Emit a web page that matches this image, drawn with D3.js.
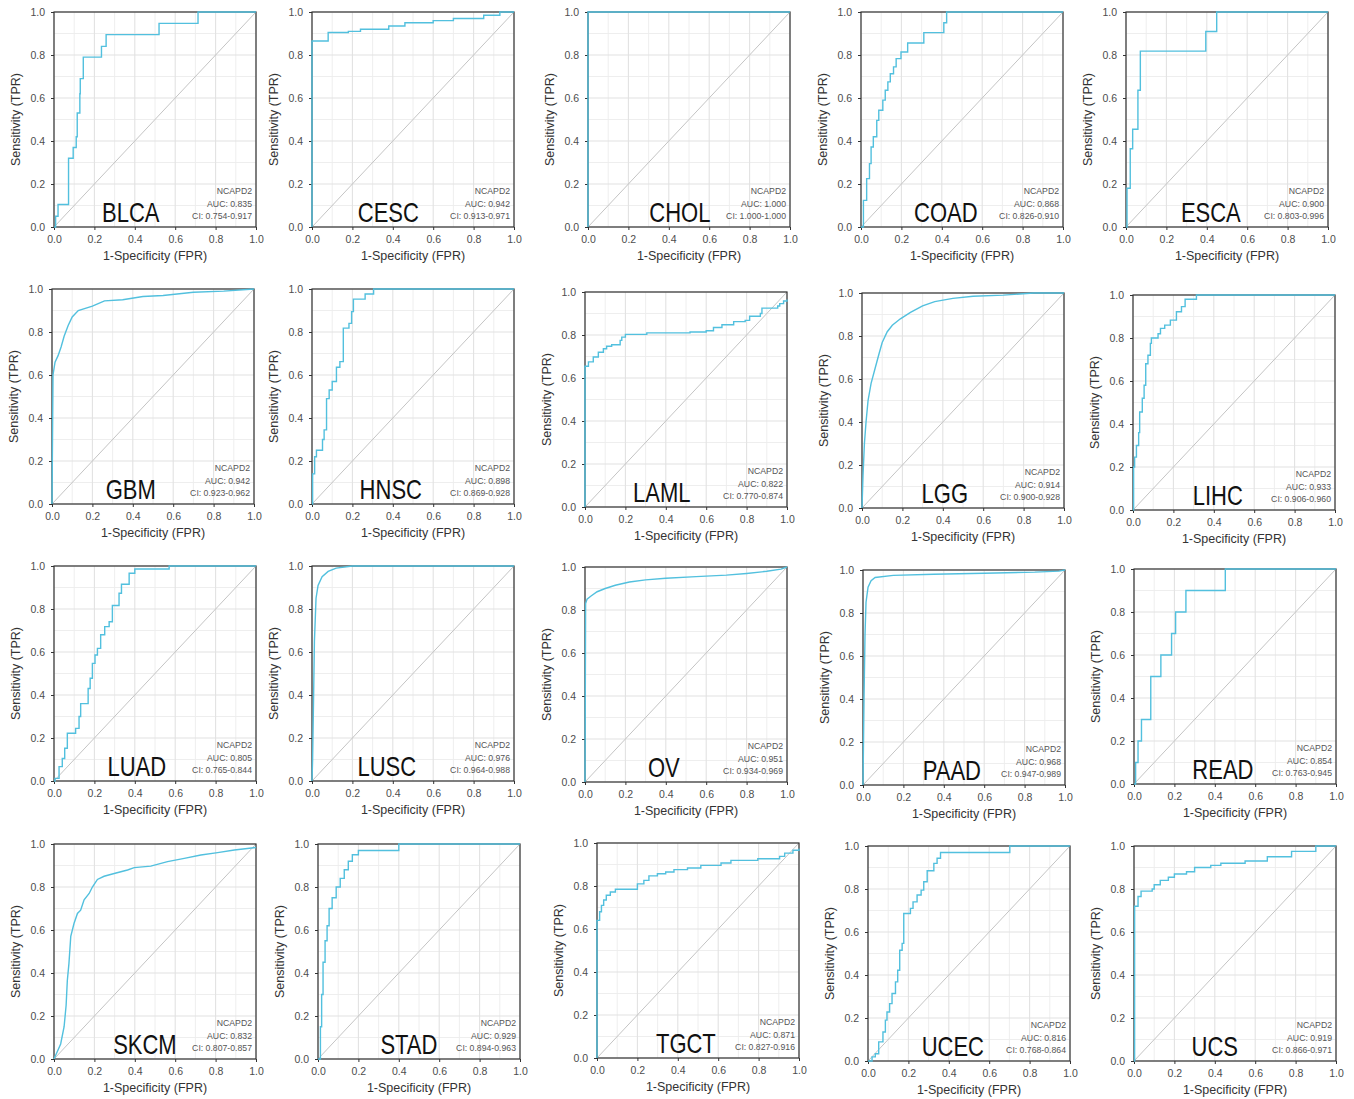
<!DOCTYPE html>
<html>
<head>
<meta charset="utf-8">
<script src="https://cdn.jsdelivr.net/npm/d3@7"></script>
<style>
  body { margin: 0; background: #fff; }
  svg { display: block; font-family: "Liberation Sans", Arial, sans-serif; }
</style>
</head>
<body>
<svg id="chart" width="1354" height="1099"></svg>
<script>
// The data:
const cancers = ['BLCA', 'CESC', 'CHOL', 'COAD', 'ESCA',
                 'GBM', 'HNSC', 'LAML', 'LGG', 'LIHC',
                 'LUAD', 'LUSC', 'OV', 'PAAD', 'READ',
                 'SKCM', 'STAD', 'TGCT', 'UCEC', 'UCS']
const aucValues = [0.835, 0.942, 1.000, 0.868, 0.900,
                   0.942, 0.898, 0.822, 0.914, 0.933,
                   0.805, 0.976, 0.951, 0.968, 0.854,
                   0.832, 0.929, 0.871, 0.816, 0.919]
const ciLow = [0.754, 0.913, 1.000, 0.826, 0.803,
               0.923, 0.869, 0.770, 0.900, 0.906,
               0.765, 0.964, 0.934, 0.947, 0.763,
               0.807, 0.894, 0.827, 0.768, 0.866]
const ciHigh = [0.917, 0.971, 1.000, 0.910, 0.996,
                0.962, 0.928, 0.874, 0.928, 0.960,
                0.844, 0.988, 0.969, 0.989, 0.945,
                0.857, 0.963, 0.916, 0.864, 0.971]
const geneName = 'NCAPD2'
const tickValues = [0, 0.2, 0.4, 0.6, 0.8, 1.0]
const minorValues = [0.1, 0.3, 0.5, 0.7, 0.9]

// ROC points as [FPR, TPR]
const rocBLCA = [[0,0],[0.008,0.05],[0.02,0.105],[0.072,0.32],[0.095,0.37],[0.11,0.42],[0.115,0.53],[0.128,0.62],[0.13,0.69],[0.145,0.79],[0.235,0.84],[0.258,0.895],[0.52,0.947],[0.713,1],[1,1]]
const rocCESC = [[0,0],[0,0.865],[0.08,0.905],[0.18,0.91],[0.24,0.92],[0.38,0.935],[0.46,0.95],[0.6,0.96],[0.7,0.97],[0.85,0.985],[0.93,1],[1,1]]
const rocCHOL = [[0,0],[0,1],[1,1]]
const rocCOAD = [[0,0],[0.012,0.124],[0.028,0.225],[0.042,0.295],[0.05,0.372],[0.061,0.42],[0.078,0.496],[0.088,0.543],[0.108,0.59],[0.12,0.636],[0.133,0.675],[0.145,0.713],[0.161,0.745],[0.174,0.783],[0.198,0.814],[0.231,0.856],[0.311,0.904],[0.41,0.95],[0.424,1],[1,1]]
const rocESCA = [[0,0],[0.005,0.18],[0.021,0.364],[0.033,0.455],[0.059,0.636],[0.071,0.818],[0.395,0.909],[0.449,1],[1,1]]
const rocGBM = [[0,0],[0.005,0.6],[0.015,0.66],[0.03,0.69],[0.045,0.73],[0.06,0.78],[0.08,0.83],[0.1,0.87],[0.13,0.9],[0.2,0.92],[0.26,0.945],[0.35,0.95],[0.45,0.965],[0.55,0.97],[0.7,0.985],[0.85,0.99],[1,1]]
const rocHNSC = [[0,0],[0.003,0.14],[0.013,0.22],[0.022,0.25],[0.052,0.3],[0.06,0.345],[0.072,0.49],[0.085,0.53],[0.1,0.57],[0.121,0.636],[0.138,0.662],[0.155,0.818],[0.183,0.84],[0.196,0.895],[0.205,0.953],[0.263,0.977],[0.305,1],[1,1]]
const rocLAML = [[0,0],[0,0.655],[0.017,0.675],[0.041,0.698],[0.066,0.72],[0.091,0.736],[0.107,0.748],[0.132,0.755],[0.174,0.775],[0.182,0.79],[0.2,0.803],[0.306,0.81],[0.52,0.814],[0.6,0.82],[0.636,0.835],[0.678,0.848],[0.736,0.862],[0.793,0.868],[0.815,0.887],[0.868,0.9],[0.876,0.925],[0.954,0.935],[0.964,0.946],[0.983,0.958],[1,0.965]]
const rocLGG = [[0,0],[0.005,0.15],[0.012,0.3],[0.02,0.4],[0.03,0.5],[0.045,0.58],[0.065,0.65],[0.085,0.72],[0.1,0.77],[0.125,0.82],[0.15,0.85],[0.19,0.88],[0.24,0.91],[0.3,0.94],[0.36,0.96],[0.45,0.975],[0.55,0.985],[0.7,0.99],[0.85,1],[1,1]]
const rocLIHC = [[0,0],[0.003,0.2],[0.008,0.246],[0.017,0.3],[0.028,0.36],[0.033,0.456],[0.046,0.52],[0.055,0.58],[0.063,0.68],[0.074,0.72],[0.086,0.775],[0.091,0.8],[0.124,0.82],[0.136,0.845],[0.157,0.86],[0.185,0.883],[0.215,0.922],[0.24,0.946],[0.258,0.98],[0.314,1],[1,1]]
const rocLUAD = [[0,0],[0.005,0.012],[0.025,0.067],[0.041,0.105],[0.053,0.152],[0.066,0.222],[0.107,0.245],[0.124,0.3],[0.132,0.36],[0.169,0.43],[0.179,0.478],[0.19,0.547],[0.203,0.586],[0.215,0.617],[0.231,0.68],[0.251,0.718],[0.273,0.741],[0.289,0.816],[0.322,0.873],[0.334,0.915],[0.372,0.966],[0.4,0.986],[0.57,1],[1,1]]
const rocLUSC = [[0,0],[0.003,0.1],[0.008,0.4],[0.012,0.65],[0.02,0.85],[0.03,0.91],[0.05,0.95],[0.08,0.975],[0.12,0.99],[0.2,1],[1,1]]
const rocOV = [[0,0],[0.003,0.83],[0.01,0.85],[0.03,0.865],[0.06,0.885],[0.1,0.9],[0.15,0.915],[0.22,0.93],[0.3,0.94],[0.4,0.948],[0.55,0.955],[0.7,0.962],[0.8,0.97],[0.9,0.98],[0.97,0.99],[1,1]]
const rocPAAD = [[0,0],[0.005,0.4],[0.01,0.7],[0.015,0.85],[0.025,0.92],[0.04,0.95],[0.06,0.965],[0.15,0.975],[0.35,0.98],[0.6,0.985],[0.85,0.99],[0.97,0.995],[1,1]]
const rocREAD = [[0,0],[0.008,0.1],[0.02,0.2],[0.037,0.3],[0.083,0.5],[0.133,0.6],[0.186,0.7],[0.206,0.8],[0.257,0.9],[0.452,1],[1,1]]
const rocSKCM = [[0,0],[0.033,0.07],[0.05,0.15],[0.06,0.25],[0.066,0.365],[0.074,0.445],[0.083,0.57],[0.099,0.63],[0.116,0.677],[0.132,0.692],[0.149,0.74],[0.174,0.77],[0.19,0.8],[0.215,0.835],[0.248,0.85],[0.298,0.863],[0.364,0.879],[0.397,0.89],[0.479,0.897],[0.562,0.918],[0.645,0.933],[0.727,0.949],[0.81,0.96],[0.893,0.972],[1,0.984]]
const rocSTAD = [[0,0],[0.012,0.15],[0.018,0.3],[0.025,0.45],[0.035,0.55],[0.045,0.62],[0.055,0.7],[0.07,0.75],[0.09,0.8],[0.11,0.84],[0.13,0.88],[0.15,0.92],[0.17,0.95],[0.2,0.97],[0.4,1],[1,1]]
const rocTGCT = [[0,0],[0,0.64],[0.013,0.68],[0.022,0.71],[0.033,0.735],[0.046,0.757],[0.066,0.772],[0.091,0.785],[0.2,0.81],[0.232,0.826],[0.257,0.847],[0.299,0.857],[0.34,0.865],[0.381,0.876],[0.448,0.884],[0.514,0.896],[0.614,0.907],[0.663,0.919],[0.796,0.927],[0.904,0.938],[0.929,0.953],[0.97,0.966],[1,0.975]]
const rocUCEC = [[0,0],[0.02,0.019],[0.036,0.034],[0.053,0.089],[0.074,0.135],[0.086,0.19],[0.094,0.228],[0.107,0.267],[0.119,0.314],[0.136,0.368],[0.147,0.422],[0.157,0.515],[0.169,0.547],[0.177,0.686],[0.21,0.71],[0.223,0.74],[0.243,0.772],[0.263,0.795],[0.276,0.834],[0.293,0.885],[0.326,0.919],[0.342,0.943],[0.359,0.97],[0.702,1],[1,1]]
const rocUCS = [[0,0],[0.003,0.72],[0.02,0.765],[0.035,0.79],[0.09,0.8],[0.1,0.82],[0.13,0.84],[0.17,0.855],[0.2,0.87],[0.26,0.88],[0.3,0.9],[0.38,0.91],[0.43,0.92],[0.55,0.93],[0.66,0.95],[0.78,0.975],[0.9,1],[1,1]]

const rocCurves = [rocBLCA, rocCESC, rocCHOL, rocCOAD, rocESCA,
                   rocGBM, rocHNSC, rocLAML, rocLGG, rocLIHC,
                   rocLUAD, rocLUSC, rocOV, rocPAAD, rocREAD,
                   rocSKCM, rocSTAD, rocTGCT, rocUCEC, rocUCS]
// curves with many thresholds are drawn straight, the rest as steps
const smoothCurves = ['GBM', 'LGG', 'LUSC', 'OV', 'PAAD', 'SKCM']

// Layout of each panel (plot box left/top) and where the cancer label sits
const panelLeft = [54, 312, 588, 861, 1126, 52, 312, 585, 862, 1133, 54, 312, 585, 863, 1134, 54, 318, 597, 868, 1134]
const panelTop = [12, 12, 12, 12, 12, 289, 289, 292, 293, 295, 566, 566, 567, 570, 569, 844, 844, 843, 846, 846]
const labelPos = [0.38, 0.378, 0.455, 0.42, 0.42, 0.39, 0.39, 0.38, 0.41, 0.42, 0.41, 0.37, 0.39, 0.44, 0.44, 0.45, 0.45, 0.44, 0.42, 0.40]
const plotW = 202
const plotH = 215

const svg = d3.select('#chart')
const fmt = d3.format('.3f')

cancers.forEach((name, i) => {
  const g = svg.append('g').attr('transform', `translate(${panelLeft[i]},${panelTop[i]})`)

  let xScale = d3.scaleLinear().domain([0, 1]).range([0, plotW])
  let yScale = d3.scaleLinear().domain([0, 1]).range([plotH, 0])

  // grid: minor then major
  g.selectAll('.vminor').data(minorValues).enter().append('line')
    .attr('x1', (d) => xScale(d)).attr('x2', (d) => xScale(d))
    .attr('y1', 0).attr('y2', plotH)
    .attr('stroke', '#ececec').attr('stroke-width', 0.9)
  g.selectAll('.hminor').data(minorValues).enter().append('line')
    .attr('y1', (d) => yScale(d)).attr('y2', (d) => yScale(d))
    .attr('x1', 0).attr('x2', plotW)
    .attr('stroke', '#ececec').attr('stroke-width', 0.9)
  g.selectAll('.vmajor').data(tickValues).enter().append('line')
    .attr('x1', (d) => xScale(d)).attr('x2', (d) => xScale(d))
    .attr('y1', 0).attr('y2', plotH)
    .attr('stroke', '#e2e2e2').attr('stroke-width', 1.1)
  g.selectAll('.hmajor').data(tickValues).enter().append('line')
    .attr('y1', (d) => yScale(d)).attr('y2', (d) => yScale(d))
    .attr('x1', 0).attr('x2', plotW)
    .attr('stroke', '#e2e2e2').attr('stroke-width', 1.1)

  // chance diagonal
  g.append('line')
    .attr('x1', xScale(0)).attr('y1', yScale(0))
    .attr('x2', xScale(1)).attr('y2', yScale(1))
    .attr('stroke', '#c4c4c4').attr('stroke-width', 1)

  // axes
  let xAxis = d3.axisBottom(xScale).tickValues(tickValues).tickFormat(d3.format('.1f')).tickSize(3).tickPadding(6)
  let yAxis = d3.axisLeft(yScale).tickValues(tickValues).tickFormat(d3.format('.1f')).tickSize(3).tickPadding(6)
  const xg = g.append('g').attr('transform', `translate(0,${plotH})`).call(xAxis)
  const yg = g.append('g').call(yAxis)
  ;[xg, yg].forEach((ag) => {
    ag.select('.domain').remove()
    ag.selectAll('line').attr('stroke', '#333')
    ag.selectAll('text').attr('fill', '#4d4d4d').style('font-size', '10.5px')
      .style('font-family', '"Liberation Sans", Arial, sans-serif')
  })

  // panel border
  g.append('rect').attr('width', plotW).attr('height', plotH)
    .attr('fill', 'none').attr('stroke', '#333').attr('stroke-width', 1.2)

  // axis titles
  g.append('text').attr('x', plotW / 2).attr('y', plotH + 33)
    .attr('text-anchor', 'middle').attr('fill', '#333').style('font-size', '12.5px')
    .text('1-Specificity (FPR)')
  g.append('text').attr('transform', `translate(-34,${plotH / 2}) rotate(-90)`)
    .attr('text-anchor', 'middle').attr('fill', '#333').style('font-size', '12.5px')
    .text('Sensitivity (TPR)')

  // ROC curve
  const line = d3.line()
    .x((d) => xScale(d[0]))
    .y((d) => yScale(d[1]))
    .curve(smoothCurves.includes(name) ? d3.curveLinear : d3.curveStepAfter)
  g.append('path').datum(rocCurves[i])
    .attr('d', line)
    .attr('fill', 'none').attr('stroke', '#52c0de').attr('stroke-width', 1.4)

  // annotation
  const notes = [geneName, 'AUC: ' + fmt(aucValues[i]), 'CI: ' + fmt(ciLow[i]) + '-' + fmt(ciHigh[i])]
  g.selectAll('.note').data(notes).enter().append('text')
    .attr('x', plotW - 4).attr('y', (d, k) => plotH - 33 + k * 12.5)
    .attr('text-anchor', 'end').attr('fill', '#555').style('font-size', '8.7px')
    .text((d) => d)

  // cancer label
  g.append('text')
    .attr('transform', `translate(${xScale(labelPos[i])},${plotH - 5}) scale(1,1.25)`)
    .attr('text-anchor', 'middle').attr('fill', '#111').style('font-size', '22px')
    .text(name)
})
</script>
</body>
</html>
